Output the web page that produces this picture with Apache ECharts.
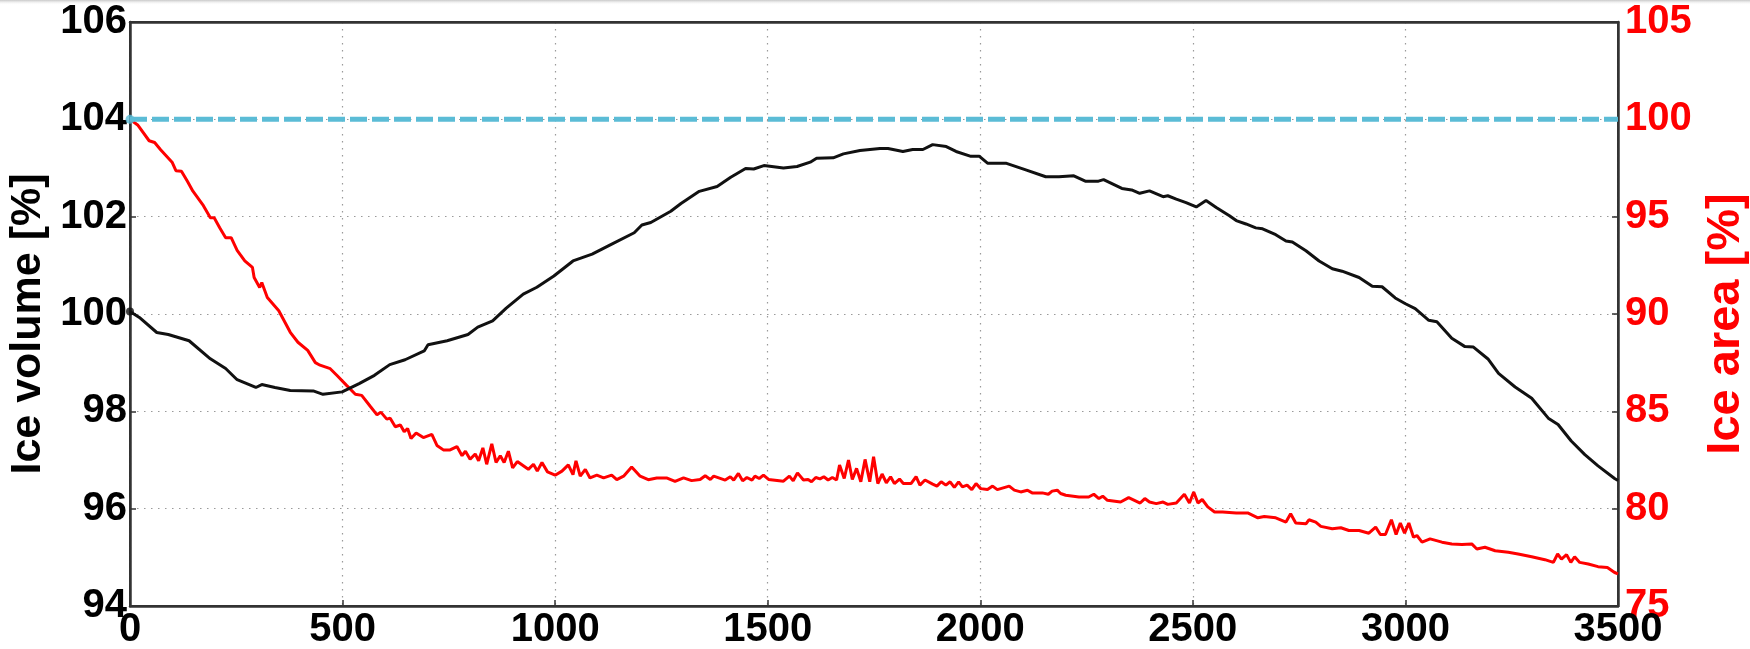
<!DOCTYPE html>
<html>
<head>
<meta charset="utf-8">
<style>
  html, body { margin: 0; padding: 0; background: #ffffff; }
  #chart { width: 1750px; height: 649px; }
</style>
<script src="https://cdn.jsdelivr.net/npm/echarts@6/dist/echarts.min.js"></script>
</head>
<body>
<div id="chart"></div>
<script>
// ---- Data ----
const xTicks = [0, 500, 1000, 1500, 2000, 2500, 3000, 3500];
const volumeTicks = [94, 96, 98, 100, 102, 104, 106];
const areaTicks = [75, 80, 85, 90, 95, 100, 105];

// Ice volume [%] (left axis, black)
const volumeX = [0, 22, 63, 90, 139, 189, 225, 252, 296, 310, 341, 377, 431, 454, 499, 539, 575, 611, 647, 692, 701, 746, 795, 818, 853, 885, 925, 957, 997, 1042, 1087, 1132, 1186, 1204, 1225, 1272, 1296, 1339, 1381, 1413, 1448, 1467, 1491, 1537, 1569, 1600, 1615, 1654, 1678, 1717, 1764, 1783, 1818, 1841, 1865, 1888, 1920, 1943, 1978, 1998, 2017, 2060, 2107, 2154, 2185, 2220, 2247, 2278, 2290, 2333, 2356, 2375, 2398, 2430, 2441, 2461, 2484, 2508, 2531, 2555, 2586, 2602, 2625, 2648, 2664, 2695, 2719, 2734, 2766, 2797, 2828, 2851, 2891, 2922, 2945, 2976, 3000, 3023, 3055, 3074, 3109, 3140, 3160, 3195, 3219, 3258, 3297, 3336, 3359, 3390, 3422, 3453, 3492, 3500];
const volumeY = [100.05, 99.93, 99.62, 99.58, 99.45, 99.08, 98.88, 98.65, 98.49, 98.55, 98.49, 98.43, 98.42, 98.35, 98.40, 98.57, 98.74, 98.96, 99.06, 99.24, 99.37, 99.45, 99.58, 99.73, 99.86, 100.12, 100.41, 100.55, 100.78, 101.09, 101.23, 101.43, 101.67, 101.83, 101.88, 102.11, 102.27, 102.52, 102.62, 102.81, 102.99, 102.98, 103.05, 103.00, 103.03, 103.12, 103.20, 103.21, 103.29, 103.36, 103.40, 103.40, 103.34, 103.38, 103.38, 103.48, 103.44, 103.34, 103.24, 103.24, 103.10, 103.10, 102.96, 102.82, 102.82, 102.84, 102.73, 102.73, 102.76, 102.58, 102.55, 102.48, 102.53, 102.41, 102.43, 102.36, 102.29, 102.20, 102.33, 102.19, 102.02, 101.92, 101.85, 101.77, 101.75, 101.63, 101.50, 101.48, 101.30, 101.09, 100.93, 100.88, 100.75, 100.57, 100.56, 100.33, 100.21, 100.11, 99.87, 99.84, 99.50, 99.33, 99.32, 99.07, 98.78, 98.50, 98.27, 97.86, 97.73, 97.39, 97.11, 96.88, 96.62, 96.58];

// Ice area [%] (right axis, red)
const areaX = [0, 4, 18, 45, 58, 72, 99, 108, 121, 135, 148, 171, 189, 198, 211, 225, 238, 252, 270, 288, 292, 305, 310, 323, 350, 377, 395, 418, 436, 447, 471, 487, 510, 530, 545, 565, 581, 590, 604, 612, 624, 636, 645, 653, 661, 673, 690, 710, 722, 737, 753, 769, 781, 789, 800, 812, 820, 830, 839, 851, 861, 871, 880, 890, 900, 911, 926, 937, 949, 958, 969, 982, 1000, 1016, 1031, 1042, 1049, 1059, 1071, 1082, 1098, 1114, 1133, 1145, 1161, 1180, 1200, 1219, 1239, 1262, 1282, 1302, 1321, 1341, 1353, 1365, 1373, 1400, 1412, 1420, 1431, 1441, 1451, 1463, 1470, 1480, 1490, 1502, 1537, 1551, 1560, 1570, 1584, 1595, 1603, 1613, 1623, 1632, 1642, 1652, 1662, 1669, 1680, 1690, 1699, 1709, 1719, 1729, 1740, 1749, 1759, 1769, 1779, 1789, 1798, 1810, 1819, 1837, 1849, 1858, 1870, 1888, 1898, 1908, 1919, 1929, 1939, 1949, 1958, 1969, 1980, 1990, 2001, 2017, 2029, 2040, 2068, 2080, 2095, 2111, 2122, 2146, 2160, 2169, 2181, 2189, 2201, 2232, 2255, 2267, 2279, 2288, 2299, 2330, 2349, 2376, 2387, 2398, 2414, 2430, 2441, 2461, 2480, 2492, 2502, 2512, 2522, 2535, 2551, 2570, 2602, 2629, 2653, 2668, 2695, 2719, 2730, 2742, 2766, 2773, 2789, 2801, 2828, 2848, 2867, 2891, 2914, 2930, 2941, 2953, 2967, 2978, 2988, 2998, 3008, 3019, 3027, 3039, 3058, 3086, 3109, 3133, 3156, 3168, 3187, 3211, 3242, 3265, 3297, 3328, 3348, 3358, 3367, 3379, 3389, 3398, 3410, 3430, 3453, 3475, 3492, 3500];
const areaY = [100.0, 99.92, 99.71, 98.9, 98.81, 98.44, 97.8, 97.36, 97.33, 96.82, 96.31, 95.62, 94.94, 94.94, 94.43, 93.92, 93.92, 93.27, 92.73, 92.39, 91.87, 91.36, 91.62, 90.85, 90.17, 89.06, 88.55, 88.13, 87.5, 87.37, 87.19, 86.84, 86.32, 85.88, 85.82, 85.26, 84.82, 84.96, 84.6, 84.65, 84.21, 84.3, 83.95, 84.12, 83.6, 83.89, 83.65, 83.82, 83.25, 83.02, 83.02, 83.19, 82.72, 82.95, 82.54, 82.81, 82.46, 83.12, 82.28, 83.33, 82.37, 82.72, 82.37, 82.95, 82.1, 82.42, 82.19, 82.02, 82.28, 81.93, 82.37, 81.89, 81.72, 81.93, 82.25, 81.75, 82.46, 81.67, 82.02, 81.58, 81.72, 81.58, 81.72, 81.49, 81.67, 82.14, 81.67, 81.49, 81.58, 81.58, 81.4, 81.58, 81.44, 81.5, 81.69, 81.5, 81.67, 81.47, 81.64, 81.47, 81.81, 81.43, 81.6, 81.47, 81.67, 81.55, 81.72, 81.5, 81.41, 81.67, 81.43, 81.84, 81.47, 81.5, 81.38, 81.6, 81.53, 81.64, 81.47, 81.6, 81.47, 82.24, 81.55, 82.5, 81.5, 82.07, 81.38, 82.53, 81.38, 82.67, 81.29, 81.78, 81.33, 81.64, 81.29, 81.52, 81.29, 81.29, 81.64, 81.21, 81.47, 81.26, 81.16, 81.38, 81.21, 81.38, 81.09, 81.38, 81.12, 81.21, 80.98, 81.29, 81.03, 80.98, 81.16, 80.98, 81.16, 80.95, 80.86, 80.95, 80.81, 80.81, 80.74, 80.9, 80.95, 80.78, 80.69, 80.6, 80.6, 80.74, 80.52, 80.64, 80.43, 80.34, 80.57, 80.29, 80.52, 80.34, 80.26, 80.34, 80.22, 80.29, 80.74, 80.29, 80.86, 80.29, 80.47, 80.09, 79.83, 79.83, 79.78, 79.78, 79.53, 79.6, 79.53, 79.31, 79.74, 79.26, 79.22, 79.43, 79.31, 79.09, 78.97, 79.02, 78.88, 78.88, 78.74, 79.05, 78.67, 78.67, 79.43, 78.67, 79.26, 78.74, 79.26, 78.53, 78.62, 78.28, 78.45, 78.28, 78.19, 78.16, 78.19, 77.93, 78.02, 77.84, 77.76, 77.67, 77.53, 77.38, 77.24, 77.67, 77.41, 77.64, 77.24, 77.53, 77.24, 77.16, 77.02, 76.98, 76.72, 76.65];

// Reference level (100 % area) as dashed line
const referenceX = [0, 3500];
const referenceY = [100, 100];

// ---- Build chart ----
const zip = (xs, ys) => xs.map((x, i) => [x, ys[i]]);
const FONT = "'Liberation Sans', Arial, Helvetica, sans-serif";

const chart = echarts.init(document.getElementById('chart'), null, { renderer: 'canvas' });

const gridLineStyle = { show: true, lineStyle: { color: '#9a9a9a', width: 1.2, type: [1.5, 5.5] } };
const frameLine = { show: true, onZero: false, lineStyle: { color: '#333333', width: 2.5 } };
const tick = { show: true, inside: true, length: 6, lineStyle: { color: '#333333', width: 1.5 } };

chart.setOption({
  animation: false,
  backgroundColor: '#ffffff',
  graphic: [{
    type: 'rect', left: 0, top: 0, z: 100,
    shape: { width: 1750, height: 5 },
    style: { fill: new echarts.graphic.LinearGradient(0, 0, 0, 1, [
      { offset: 0, color: '#c8c8c8' }, { offset: 1, color: 'rgba(255,255,255,0)' }]) }
  }],
  grid: {
    left: 130, right: 132, top: 22, bottom: 43,
    containLabel: false, outerBoundsMode: 'none',
    show: true, borderColor: '#333333', borderWidth: 2, backgroundColor: 'transparent'
  },
  xAxis: [{
    type: 'value', min: 0, max: 3500, interval: 500, position: 'bottom',
    axisLine: frameLine,
    axisTick: tick,
    axisLabel: {
      color: '#000', fontSize: 40, fontWeight: 'bold', fontFamily: FONT, margin: 4,
      formatter: v => xTicks.includes(v) ? String(v) : ''
    },
    splitLine: gridLineStyle
  }, {
    type: 'value', min: 0, max: 3500, interval: 500, position: 'top',
    axisLine: frameLine,
    axisTick: { show: false },
    axisLabel: { show: false },
    splitLine: { show: false }
  }],
  yAxis: [{
    type: 'value', min: 94, max: 106, interval: 2, position: 'left',
    name: 'Ice volume [%]', nameLocation: 'middle', nameGap: 80, nameRotate: 90,
    nameTextStyle: { color: '#000', fontSize: 43, fontWeight: 'bold', fontFamily: FONT, padding: [0, 20, 0, 0] },
    axisLine: frameLine,
    axisTick: tick,
    axisLabel: {
      color: '#000', fontSize: 40, fontWeight: 'bold', fontFamily: FONT, margin: 3,
      formatter: v => volumeTicks.includes(v) ? String(v) : ''
    },
    splitLine: gridLineStyle
  }, {
    type: 'value', min: 75, max: 105, interval: 5, position: 'right',
    name: 'Ice area [%]', nameLocation: 'middle', nameGap: 58, nameRotate: 90,
    nameTextStyle: { color: '#ff0000', fontSize: 47, fontWeight: 'bold', fontFamily: FONT, padding: [0, 20, 0, 0] },
    axisLine: frameLine,
    axisTick: tick,
    axisLabel: {
      color: '#ff0000', fontSize: 40, fontWeight: 'bold', fontFamily: FONT, margin: 7,
      formatter: v => areaTicks.includes(v) ? String(v) : ''
    },
    splitLine: { show: false }
  }],
  series: [{
    name: 'Ice volume', type: 'line', yAxisIndex: 0,
    data: zip(volumeX, volumeY), showSymbol: false, symbol: 'none',
    lineStyle: { color: '#111111', width: 3 }, z: 3
  }, {
    name: 'Ice area', type: 'line', yAxisIndex: 1,
    data: zip(areaX, areaY), showSymbol: false, symbol: 'none',
    lineStyle: { color: '#ff0000', width: 3 }, z: 2
  }, {
    name: 'Reference', type: 'line', yAxisIndex: 1,
    data: zip(referenceX, referenceY), showSymbol: false, symbol: 'none',
    lineStyle: { color: '#5bbcd6', width: 5, type: [17, 5] }, z: 4
  }, {
    name: 'Volume start', type: 'scatter', yAxisIndex: 0,
    data: [[volumeX[0], volumeY[0]]], symbol: 'circle', symbolSize: 8,
    itemStyle: { color: '#111111' }, z: 5
  }, {
    name: 'Reference start', type: 'scatter', yAxisIndex: 1,
    data: [[referenceX[0], referenceY[0]]], symbol: 'circle', symbolSize: 9,
    itemStyle: { color: '#5bbcd6' }, z: 5
  }]
});
</script>
</body>
</html>
